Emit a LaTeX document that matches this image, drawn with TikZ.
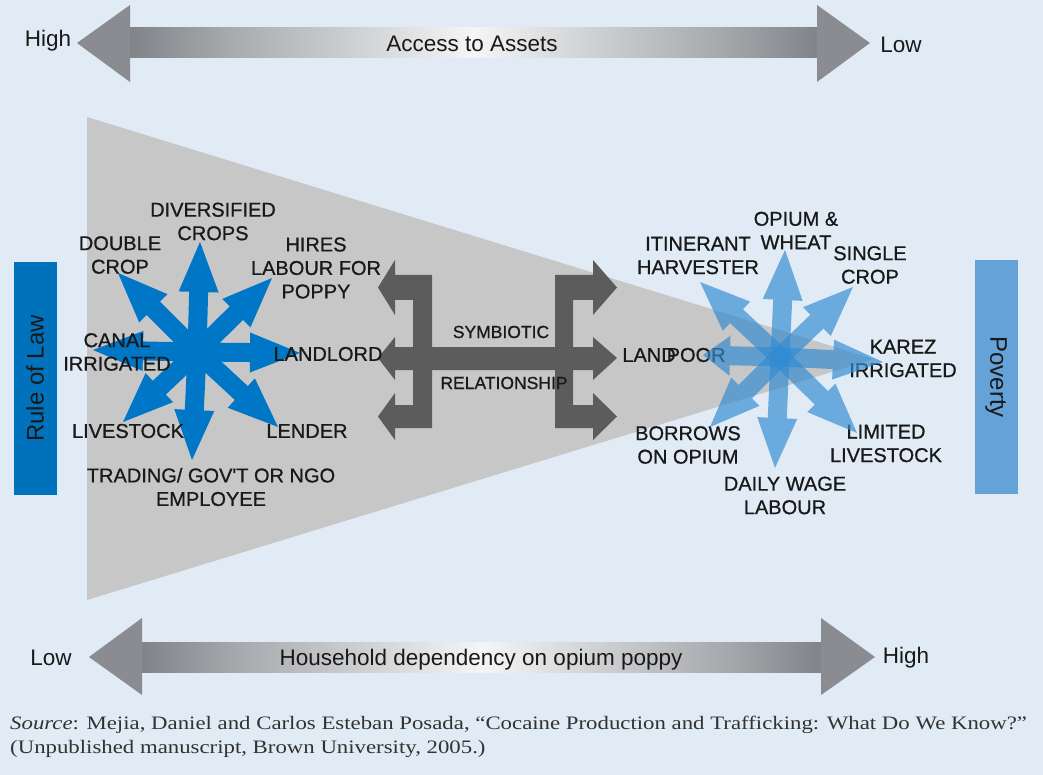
\documentclass[tikz,border=0pt]{standalone}
\usepackage{fontspec}
\setmainfont{Liberation Sans}
\newfontfamily\lblfont[FakeBold=0.8]{Liberation Sans}
\newfontfamily\srcfont[FakeStretch=1.2]{Liberation Serif}
\usetikzlibrary{calc}
\definecolor{bgblue}{RGB}{225,235,246}
\definecolor{conegray}{RGB}{199,199,199}
\definecolor{starblue}{RGB}{0,118,198}
\definecolor{starlight}{RGB}{50,140,210}
\definecolor{lawblue}{RGB}{0,114,188}
\definecolor{povblue}{RGB}{100,162,216}
\definecolor{midgray}{RGB}{92,92,92}
\definecolor{bargray}{RGB}{128,131,136}
\definecolor{headgray}{RGB}{138,140,145}
\definecolor{txt}{RGB}{25,25,25}
\definecolor{srctxt}{RGB}{50,50,50}
\pgfdeclarehorizontalshading{barshade}{100bp}{color(0bp)=(bargray); color(25bp)=(bargray); color(32bp)=(bargray!70!white); color(50bp)=(bargray!8!white); color(68bp)=(bargray!70!white); color(75bp)=(bargray); color(100bp)=(bargray)}
% fat star arrow: #1 style, #2 centre, #3 tip, #4 head length
\newcommand\stararrow[4]{%
  \path ($(#3)!#4!(#2)$) coordinate (hb);
  \fill[#1] ($(#2)!9.5pt!90:(#3)$) -- ($(hb)!9.5pt!90:(#3)$) -- ($(hb)!20pt!90:(#3)$) -- (#3)
    -- ($(hb)!20pt!-90:(#3)$) -- ($(hb)!9.5pt!-90:(#3)$) -- ($(#2)!9.5pt!-90:(#3)$) -- cycle;}
\begin{document}
\begin{tikzpicture}[x=1pt,y=-1pt,
  lbl/.style={font=\lblfont\fontsize{20}{23.5}\selectfont, align=center, text=txt, inner sep=0pt},
  midlbl/.style={font=\lblfont\fontsize{17.5}{20}\selectfont, text=txt, inner sep=0pt},
  axlbl/.style={font=\fontsize{22.5}{26}\selectfont, text=txt, inner sep=0pt, anchor=base},
  sidebox/.style={font=\fontsize{24}{28}\selectfont, text=txt, inner sep=0pt, minimum width=233pt, minimum height=43pt},
  srclbl/.style={font=\srcfont\fontsize{19}{24}\selectfont, text=srctxt, inner sep=0pt, anchor=base west},
  darkstar/.style={fill=starblue},
  lightstar/.style={fill=starlight, fill opacity=0.68},
  midarrow/.style={fill=midgray},
  headfill/.style={fill=headgray},
  barfill/.style={shading=barshade}
]
\fill[bgblue] (0,0) rectangle (1043,775);
\useasboundingbox (0,0) rectangle (1043,775);

% top axis arrow
\shade[barfill] (129,28) rectangle (818,58);
\fill[headfill] (77,43) -- (130,5) -- (130,82) -- cycle;
\fill[headfill] (870,43) -- (817,5) -- (817,82) -- cycle;
\node[axlbl] (hi1) at (48,47) {High};
\node[axlbl] (acc) at (472,52) {Access to Assets};
\node[axlbl] (lo1) at (901,53) {Low};

% bottom axis arrow
\shade[barfill] (141,642) rectangle (822,672);
\fill[headfill] (89,657) -- (142,618) -- (142,695) -- cycle;
\fill[headfill] (875,657) -- (821,618) -- (821,695) -- cycle;
\node[axlbl] (lo2) at (51,665) {Low};
\node[axlbl] (dep) at (481,665) {Household dependency on opium poppy};
\node[axlbl] (hi2) at (906,663) {High};

% cone
\fill[conegray] (87,117) -- (874,359) -- (87,600) -- cycle;

% side boxes
\node[sidebox, fill=lawblue, rotate=90] (law) at (35,378.5) {Rule of Law};
\node[sidebox, fill=povblue, rotate=-90] (pov) at (996,377) {Poverty};

% left star
\coordinate (L0) at (197,352);
\coordinate (Lu) at (200,242);
\coordinate (Ld) at (192,460);
\coordinate (Lr) at (300,353);
\coordinate (Ll) at (93,350);
\coordinate (Lnw) at (118,273);
\coordinate (Lne) at (272,278);
\coordinate (Lsw) at (123,422);
\coordinate (Lse) at (278,427);
\foreach \t in {Lu,Ld,Lr,Ll,Lnw,Lne,Lsw,Lse} {\stararrow{darkstar}{L0}{\t}{50pt}}

% middle symbiotic arrows
\fill[midarrow] (378,358) -- (395,337) -- (395,347) -- (593,347) -- (593,337) -- (617,358)
  -- (593,380) -- (593,370) -- (395,370) -- (395,380) -- cycle;
\fill[midarrow] (413,347) -- (413,300) -- (395,300) -- (395,315) -- (378,287.5) -- (395,260)
  -- (395,275) -- (432,275) -- (432,347) -- cycle;
\fill[midarrow] (413,370) -- (432,370) -- (432,428) -- (395,428) -- (395,440) -- (378,416.5)
  -- (395,393) -- (395,405) -- (413,405) -- cycle;
\fill[midarrow] (555,347) -- (555,275) -- (593,275) -- (593,260) -- (617,287.5) -- (593,315)
  -- (593,300) -- (573,300) -- (573,347) -- cycle;
\fill[midarrow] (555,370) -- (573,370) -- (573,405) -- (593,405) -- (593,393) -- (617,416.5)
  -- (593,440) -- (593,428) -- (555,428) -- cycle;
\node[midlbl] (sym) at (501,332) {SYMBIOTIC};
\node[midlbl] (rel) at (504,383) {RELATIONSHIP};

% left labels
\node[lbl] (div) at (213,221.5) {DIVERSIFIED\\CROPS};
\node[lbl] (dbl) at (120,255) {DOUBLE\\CROP};
\node[lbl] (hire) at (316,268) {HIRES\\LABOUR FOR\\POPPY};
\node[lbl] (canal) at (117,352) {CANAL\\IRRIGATED};
\node[lbl] (lord) at (328,354) {LANDLORD};
\node[lbl] (live) at (128,431) {LIVESTOCK};
\node[lbl] (lend) at (307,431) {LENDER};
\node[lbl] (trade) at (211,487) {TRADING/ GOV'T OR NGO\\EMPLOYEE};

% right labels
\node[lbl] (opw) at (796,230.5) {OPIUM \&\\WHEAT};
\node[lbl] (itin) at (698,255.5) {ITINERANT\\HARVESTER};
\node[lbl] (sing) at (870,265) {SINGLE\\CROP};
\node[lbl] (lpoor) at (674,355) {LAND\kern-9pt\relax POOR};
\node[lbl] (karez) at (903,358.5) {KAREZ\\IRRIGATED};
\node[lbl] (borr) at (688,445) {BORROWS\\ON OPIUM};
\node[lbl] (limit) at (886,443.5) {LIMITED\\LIVESTOCK};
\node[lbl] (daily) at (785,495.5) {DAILY WAGE\\LABOUR};

% right star (translucent)
\coordinate (R0) at (780,357);
\coordinate (Ru) at (785,250);
\coordinate (Rd) at (775,468);
\coordinate (Rr) at (883,362);
\coordinate (Rnw) at (700,282);
\coordinate (Rne) at (853,287);
\coordinate (Rsw) at (710,427);
\coordinate (Rse) at (857,433);
\coordinate (Rl) at (703,355);
\foreach \t in {Ru,Rd,Rr,Rnw,Rne,Rsw,Rse} {\stararrow{lightstar}{R0}{\t}{50pt}}
\stararrow{lightstar}{R0}{Rl}{27pt}

% source
\node[srclbl] (src1) at (10,729) {\textit{Source}: Mejia, Daniel and Carlos Esteban Posada, “Cocaine Production and Trafficking: What Do We Know?”};
\node[srclbl] (src2) at (10,753) {(Unpublished manuscript, Brown University, 2005.)};
\end{tikzpicture}
\end{document}
